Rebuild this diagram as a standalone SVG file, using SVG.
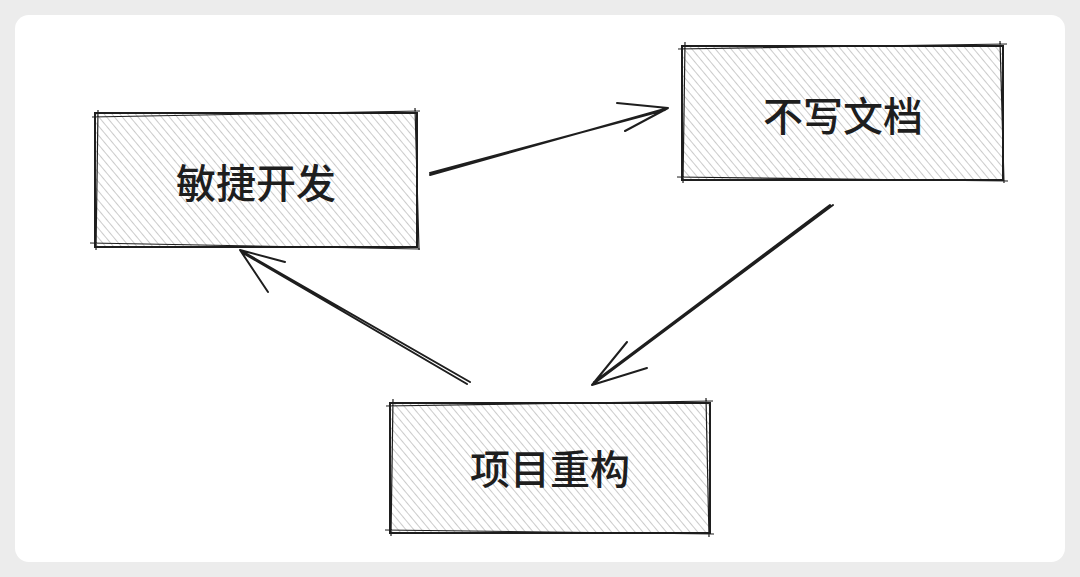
<svg xmlns="http://www.w3.org/2000/svg" width="1080" height="577" viewBox="0 0 1080 577">
<defs>
<pattern id="h" width="6" height="6" patternUnits="userSpaceOnUse" patternTransform="rotate(-40)">
<line x1="0" y1="0" x2="0" y2="6" stroke="#a8a8a8" stroke-width="1.2"/>
</pattern>
</defs>
<style>
.box{fill:url(#h);stroke:#1e1e1e;stroke-width:2}
.b2{fill:none;stroke:#1e1e1e;stroke-width:1.2}
.t{font-family:"Noto Sans CJK SC",sans-serif;font-size:40px;font-weight:500;fill:#1e1e1e;text-anchor:middle;dominant-baseline:central}
.c{fill:none;stroke:#1e1e1e;stroke-width:2;stroke-linecap:round}
</style>
<rect width="1080" height="577" fill="#ececec"/>
<rect x="15" y="15" width="1050" height="547" rx="14" fill="#fff"/>
<g id="n1"><rect class="box" x="95" y="113" width="322" height="134"/><path class="b2" d="M92 117 L420 111 M98 110 L96 250 M90 243 L420 249 M415 108 L419 250"/><text class="t" x="256" y="181">敏捷开发</text></g>
<g id="n2"><rect class="box" x="682" y="46" width="321" height="134"/><path class="b2" d="M678 49 L1007 44 M685 42 L683 183 M677 177 L1008 181 M1000 41 L1004 183"/><text class="t" x="843" y="114">不写文档</text></g>
<g id="n3"><rect class="box" x="390" y="403" width="320" height="130"/><path class="b2" d="M386 406 L713 401 M393 399 L391 536 M385 530 L714 534 M706 398 L709 537"/><text class="t" x="550" y="467">项目重构</text></g>
<g id="edges">
<path class="c" d="M430 175 L668 108 M668 108 L617 103 M668 108 L625 131 M430 173 L665 110"/>
<path class="c" d="M833 205 L592 385 M592 385 L647 368 M592 385 L627 342 M830 205 L594 382"/>
<path class="c" d="M470 382 L240 250 M240 250 L268 292 M240 250 L285 262 M467 384 L243 253"/>
</g>
</svg>
